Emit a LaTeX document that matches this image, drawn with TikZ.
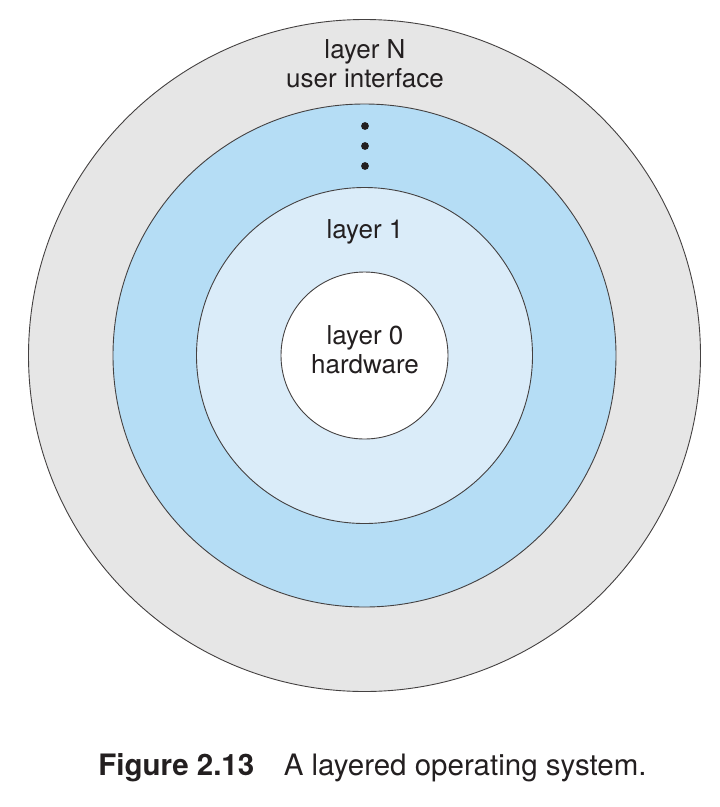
\documentclass[tikz,border=0pt]{standalone}
\usepackage{fontspec}
\setmainfont{TeX Gyre Heros}
\usetikzlibrary{positioning}

\definecolor{ringgray}{HTML}{E6E6E6}
\definecolor{ringblue}{HTML}{B5DDF5}
\definecolor{ringpale}{HTML}{DAECF9}
\definecolor{inkgray}{HTML}{231F20}

\begin{document}
\begin{tikzpicture}[
    x=1pt, y=-1pt,
    % Styles
    ring/.style={circle, draw=inkgray!85, line width=0.9pt, inner sep=0pt},
    label/.style={align=center, text=inkgray, font=\fontsize{26}{29}\selectfont},
    caption/.style={text=inkgray, font=\fontsize{29.5}{33}\selectfont}
]
    \useasboundingbox (0,0) rectangle (720,807);

    % --- Rings, outside in ---
    \coordinate (c) at (364.5,355.5);
    \node [ring, fill=ringgray, minimum size=672pt] (layerN) at (c) {};
    \node [ring, fill=ringblue, minimum size=503pt] (layerK) at (c) {};
    \node [ring, fill=ringpale, minimum size=336pt] (layer1) at (c) {};
    \node [ring, fill=white, minimum size=167pt] (layer0) at (c) {};

    % --- Labels ---
    \node [label] (topText) at (365,64) {layer N\\user interface};
    \node [label] (midText) at (365,232) {layer 1};
    \node [label] (coreText) at (365,350) {layer 0\\hardware};

    % Dots between layer 1 and layer N
    \foreach \y in {126,146,166}
        \fill [inkgray] (365,\y) circle (3.9pt);

    % --- Caption ---
    \node [caption] (fig) at (372.5,768) {\textbf{Figure 2.13}\quad A layered operating system.};
\end{tikzpicture}
\end{document}
